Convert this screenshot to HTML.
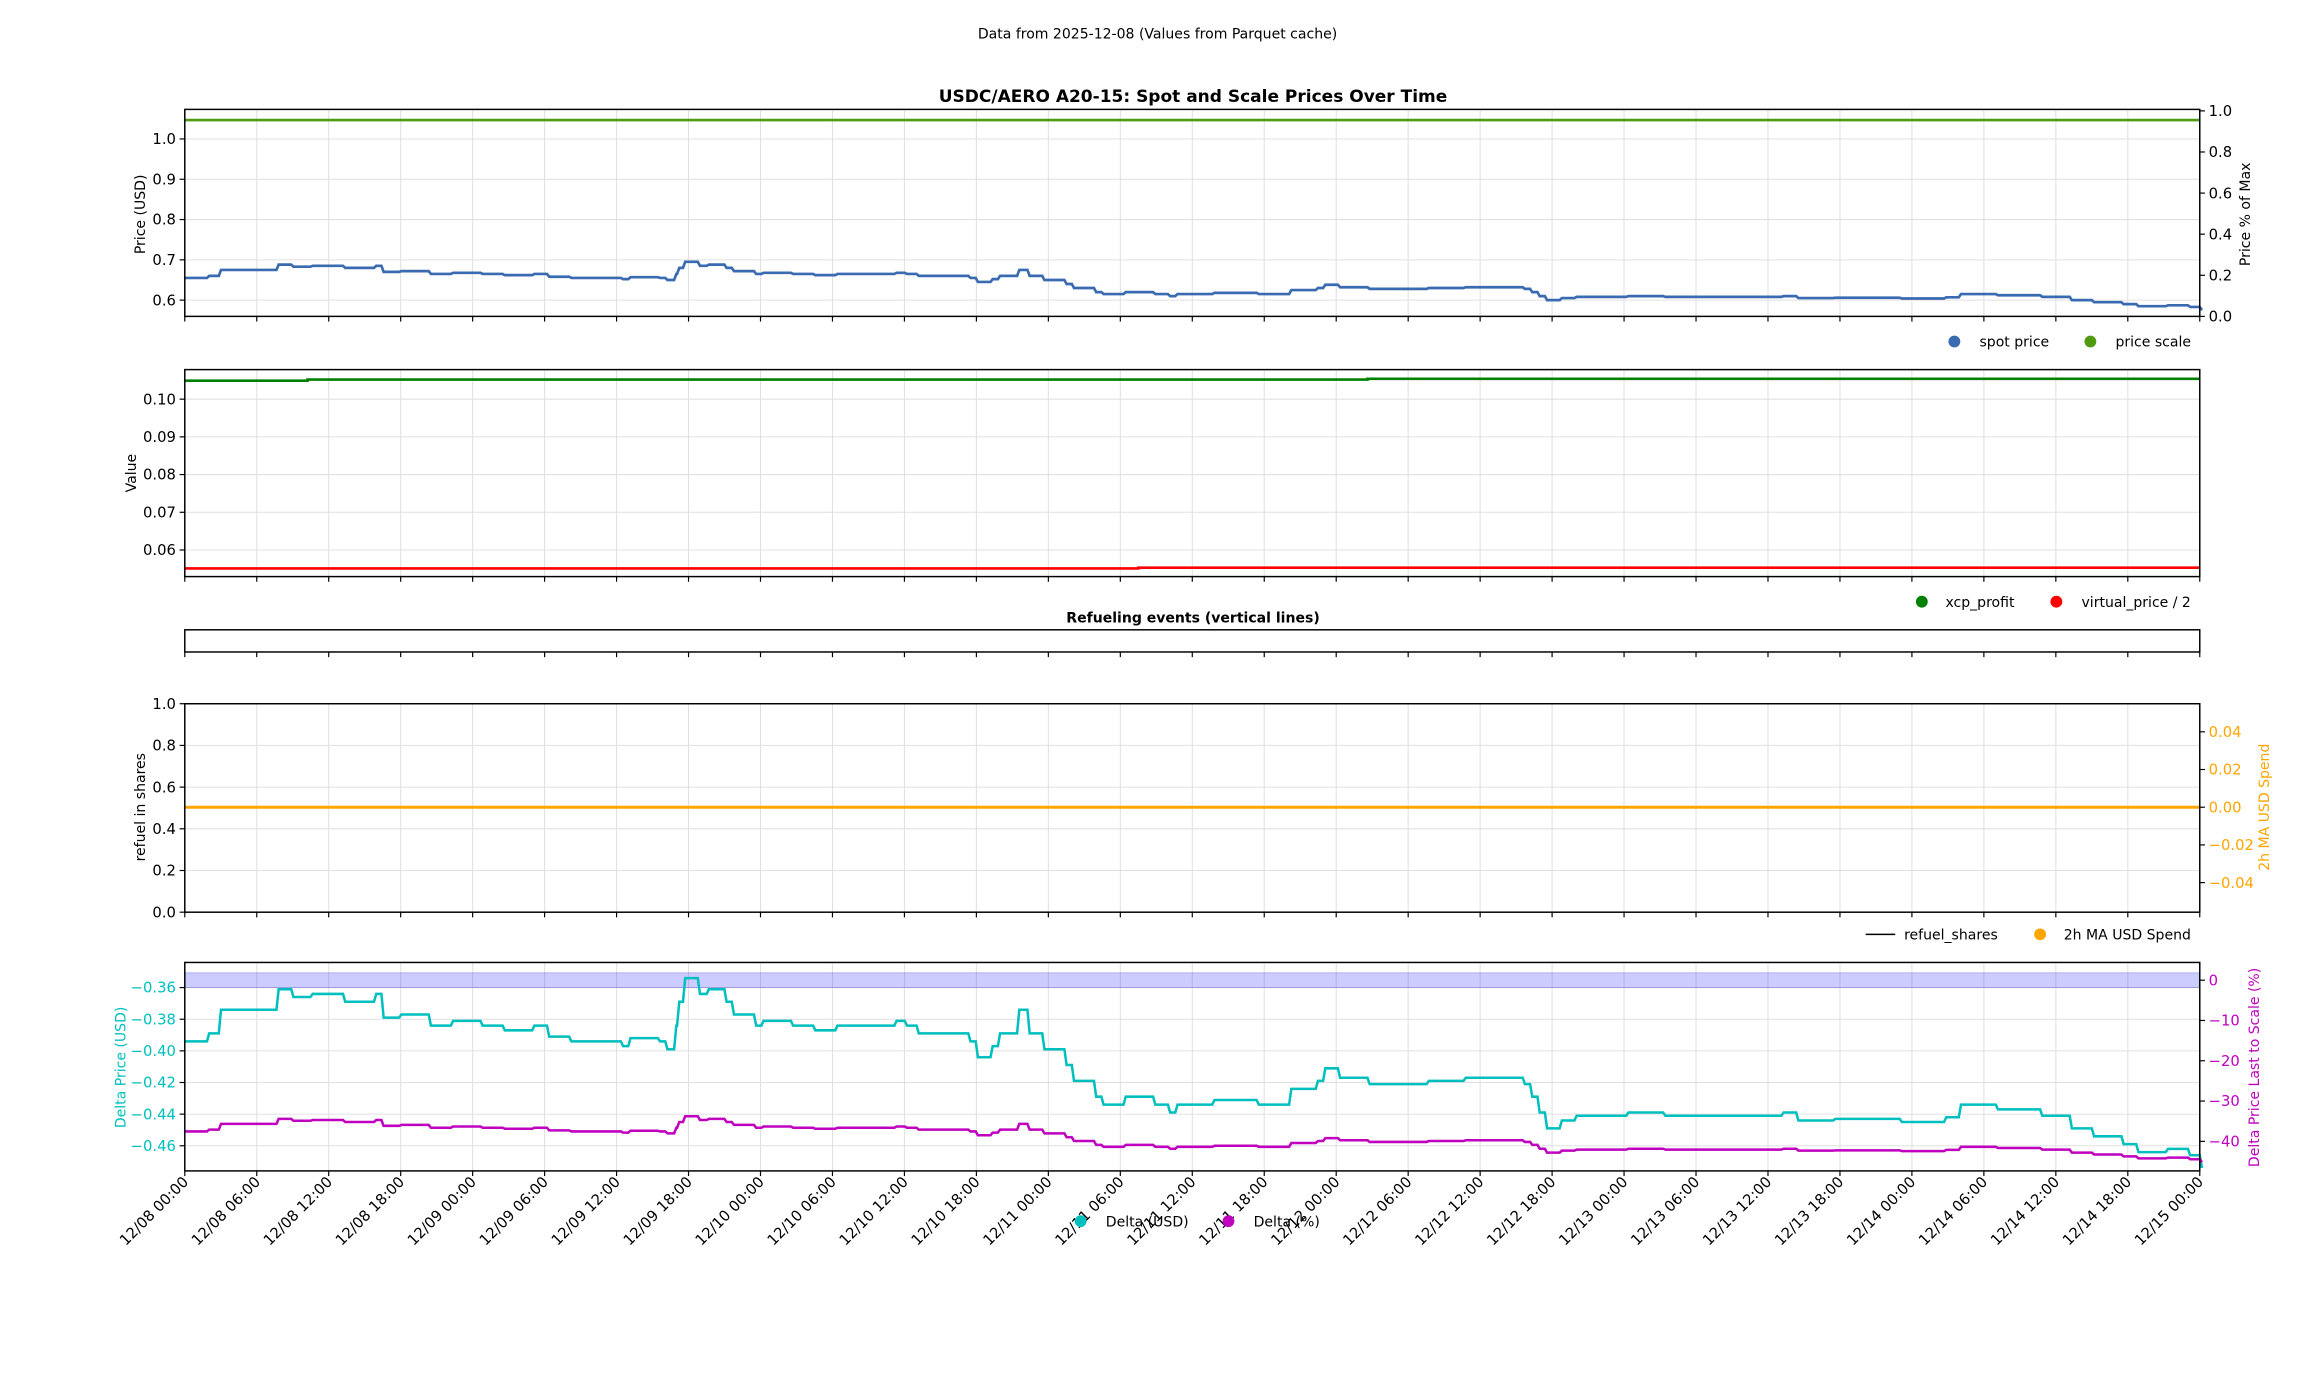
<!DOCTYPE html>
<html><head><meta charset="utf-8"><style>
html,body{margin:0;padding:0;background:#fff}
svg{display:block}
text{font-family:"DejaVu Sans","Liberation Sans",sans-serif;fill:#000}
</style></head><body>
<svg id="s" width="2317" height="1377" viewBox="0 0 1567.3 931.4" preserveAspectRatio="none" xmlns="http://www.w3.org/2000/svg">
<g id="grid" stroke="#e0e0e0" stroke-width="0.7"></g>
<rect x="125" y="658" width="1363" height="10" fill="rgba(0,0,255,0.2)" stroke="rgba(0,0,200,0.25)" stroke-width="0.6"/>
<g id="series"></g>
<g id="frames" fill="none" stroke="#000" stroke-width="1">
<rect x="125" y="74" width="1363" height="140"/>
<rect x="125" y="250" width="1363" height="140"/>
<rect x="125" y="426" width="1363" height="15"/>
<rect x="125" y="476" width="1363" height="141"/>
<rect x="125" y="651" width="1363" height="141"/>
</g>
<g id="ticks" stroke="#000" stroke-width="0.8"></g>
<g id="labels" font-size="10"></g>
<text x="783" y="26" font-size="9.5" text-anchor="middle">Data from 2025-12-08 (Values from Parquet cache)</text>
<text x="807" y="69" font-size="11.5" font-weight="bold" text-anchor="middle">USDC/AERO A20-15: Spot and Scale Prices Over Time</text>
<text x="807" y="421" font-size="9.5" font-weight="bold" text-anchor="middle">Refueling events (vertical lines)</text>
<text font-size="9.5" transform="translate(98,145) rotate(-90)" text-anchor="middle">Price (USD)</text>
<text font-size="9.5" transform="translate(1522,145) rotate(-90)" text-anchor="middle">Price % of Max</text>
<text font-size="9.5" transform="translate(92,320) rotate(-90)" text-anchor="middle">Value</text>
<text font-size="9.5" transform="translate(98,546) rotate(-90)" text-anchor="middle">refuel in shares</text>
<text font-size="9.5" transform="translate(1535,546) rotate(-90)" text-anchor="middle" style="fill:#ffa500">2h MA USD Spend</text>
<text font-size="9.5" transform="translate(85,722) rotate(-90)" text-anchor="middle" style="fill:#00bfbf">Delta Price (USD)</text>
<text font-size="9.5" transform="translate(1528,722) rotate(-90)" text-anchor="middle" style="fill:#bf00bf">Delta Price Last to Scale (%)</text>
<g font-size="9.5">
<circle cx="1322" cy="231" r="4" fill="#3a6bb0"/><text x="1339" y="234.5">spot price</text>
<circle cx="1414" cy="231" r="4" fill="#4f9a0e"/><text x="1431" y="234.5">price scale</text>
<circle cx="1300" cy="407" r="4" fill="#008000"/><text x="1316" y="410.5">xcp_profit</text>
<circle cx="1391" cy="407" r="4" fill="#ff0000"/><text x="1408" y="410.5">virtual_price / 2</text>
<line x1="1262" y1="632" x2="1282" y2="632" stroke="#000" stroke-width="1"/><text x="1288" y="635.5">refuel_shares</text>
<circle cx="1380" cy="632" r="4" fill="#ffa500"/><text x="1396" y="635.5">2h MA USD Spend</text>
<circle cx="731" cy="826" r="4" fill="#00bfbf"/><text x="748" y="829.5">Delta (USD)</text>
<circle cx="831" cy="826" r="4" fill="#bf00bf"/><text x="848" y="829.5">Delta (%)</text>
</g>
</svg>
<script>
var NS="http://www.w3.org/2000/svg";
function el(p,t,a,txt){var e=document.createElementNS(NS,t);for(var k in a)e.setAttribute(k,a[k]);if(txt!==undefined)e.textContent=txt;document.getElementById(p).appendChild(e);return e;}
var L=125,R=1488;
var axes=[[74,214],[250,390],[426,441],[476,617],[651,792]];
var step=(R-L)/28;
for(var i=0;i<=28;i++){var x=L+i*step;
 axes.forEach(function(a,j){ if(j!=2) el("grid","line",{x1:x,y1:a[0],x2:x,y2:a[1]}); el("ticks","line",{x1:x,y1:a[1],x2:x,y2:a[1]+3.5});});
}
var days=["08","09","10","11","12","13","14","15"],hrs=["00:00","06:00","12:00","18:00"];
for(var i=0;i<=28;i++){var x=L+i*step;var d=days[Math.floor(i/4)],h=hrs[i%4];
 el("labels","text",{x:0,y:0,"text-anchor":"end",transform:"translate("+(x+3)+",800) rotate(-45)"},"12/"+d+" "+h);}
function yt(ax,vals,yf,fmt,side,color){vals.forEach(function(v){var y=yf(v);
 if(side=="L"){el("grid","line",{x1:L,y1:y,x2:R,y2:y});el("ticks","line",{x1:L-3.5,y1:y,x2:L,y2:y});
  var t=el("labels","text",{x:L-6,y:y+3.5,"text-anchor":"end"},fmt(v));if(color)t.setAttribute("style","fill:"+color);}
 else{el("ticks","line",{x1:R,y1:y,x2:R+3.5,y2:y});var t=el("labels","text",{x:R+6,y:y+3.5},fmt(v));if(color)t.setAttribute("style","fill:"+color);}
});}
function mn(v){return v<0?"\u2212"+(-v):""+v;}
var y1=function(v){return 94+(1-v)*272.5};
yt(0,[0.6,0.7,0.8,0.9,1.0],y1,function(v){return v.toFixed(1)},"L");
yt(0,[0,0.2,0.4,0.6,0.8,1.0],function(v){return 214-v*139},function(v){return v.toFixed(1)},"R");
var y2=function(v){return 270+(0.10-v)*2550};
yt(1,[0.06,0.07,0.08,0.09,0.10],y2,function(v){return v.toFixed(2)},"L");
var y4=function(v){return 617-v*141};
yt(3,[0,0.2,0.4,0.6,0.8,1.0],y4,function(v){return v.toFixed(1)},"L");
yt(3,[-0.04,-0.02,0,0.02,0.04],function(v){return 546-v*1275},function(v){return (v<0?"\u2212":"")+Math.abs(v).toFixed(2)},"R","#ffa500");
var y5=function(v){return 668+(-0.36-v)/0.02*21.4};
yt(4,[-0.46,-0.44,-0.42,-0.40,-0.38,-0.36],y5,function(v){return "\u2212"+Math.abs(v).toFixed(2)},"L","#00bfbf");
var y5r=function(v){return 663-v*2.725};
yt(4,[-40,-30,-20,-10,0],y5r,function(v){return mn(v)},"R","#bf00bf");
var sp=[[125,.655],[140,.66],[148,.675],[187,.688],[197,.683],[210,.685],[232,.68],[253,.685],[258,.67],[270,.672],[290,.665],[305,.668],[325,.665],[340,.662],[360,.665],[370,.658],[385,.655],[420,.652],[425,.657],[445,.655],[450,.65],[456,.665],[458,.68],[462,.695],[472,.685],[478,.688],[490,.68],[495,.672],[510,.665],[515,.668],[535,.665],[550,.662],[565,.665],[605,.668],[612,.665],[620,.66],[655,.655],[660,.645],[670,.652],[675,.66],[688,.675],[695,.66],[705,.65],[720,.64],[725,.63],[740,.62],[745,.615],[760,.62],[780,.615],[790,.61],[795,.615],[820,.618],[850,.615],[872,.625],[890,.63],[895,.638],[905,.632],[925,.628],[965,.63],[990,.632],[1030,.628],[1035,.62],[1040,.61],[1045,.6],[1055,.605],[1065,.608],[1100,.61],[1125,.608],[1205,.61],[1215,.605],[1240,.606],[1285,.604],[1315,.607],[1325,.615],[1350,.612],[1380,.608],[1400,.6],[1415,.595],[1435,.59],[1445,.585],[1465,.587],[1480,.583],[1488,.575]];
function path(data,yf){var d="";for(var i=0;i<data.length;i++){var x=data[i][0],y=yf(data[i][1]).toFixed(1);
 if(i==0)d+="M"+x+" "+y;else d+=" H"+x+" L"+(x+1.5)+" "+y;}return d;}
function line(d,c,w){el("series","path",{d:d,fill:"none",stroke:c,"stroke-width":w});}
line("M125 "+y1(1.047)+" H1488","#4f9a0e",1.8);
line(path(sp,y1),"#3a6bb0",1.8);
line("M125 "+y2(0.1049)+" H208 V"+y2(0.1052)+" H925 V"+y2(0.1054)+" H1488","#008000",1.8);
line("M125 "+y2(0.0551)+" H770 V"+y2(0.0553)+" H1488","#ff0000",1.8);
line("M125 546 H1488","#ffa500",2);
var cy=sp.map(function(p){return [p[0],p[1]-1.049]});
line(path(cy,y5),"#00bfbf",1.7);
var pc=sp.map(function(p){return [p[0],(p[1]-1.049)/1.049*100]});
line(path(pc,y5r),"#bf00bf",1.7);
</script>
</body></html>
